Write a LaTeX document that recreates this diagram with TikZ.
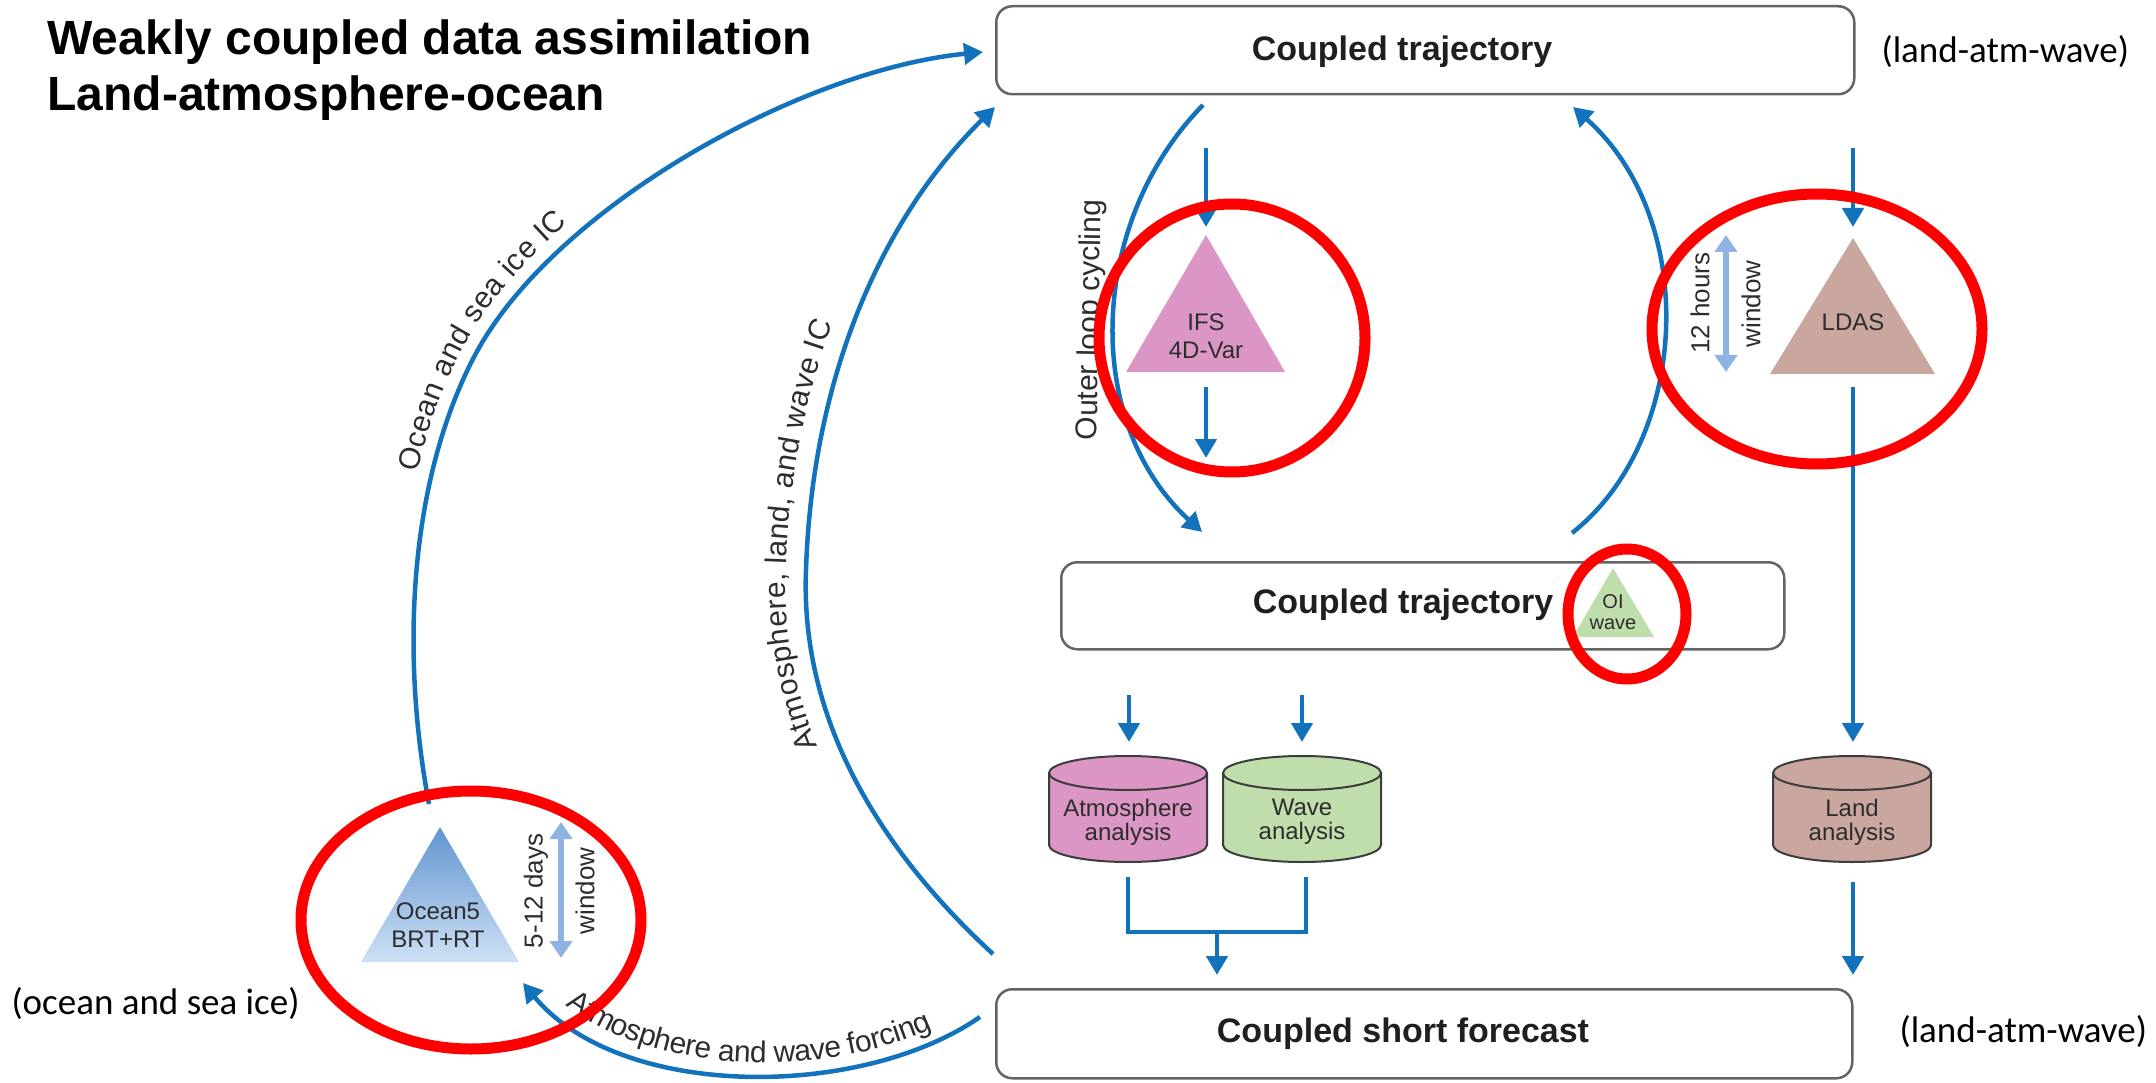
\documentclass[tikz,border=0pt]{standalone}
\usepackage{fontspec}
\setmainfont{Liberation Sans}
\newfontfamily\helvfont{Liberation Sans}
\newfontfamily\calibfont{Carlito}
\usetikzlibrary{arrows.meta,decorations.text,calc}

\definecolor{ablue}{RGB}{18,114,188}
\definecolor{lblue}{RGB}{142,178,226}
\definecolor{apink}{RGB}{219,150,197}
\definecolor{agreen}{RGB}{192,222,172}
\definecolor{abrown}{RGB}{201,166,158}
\definecolor{otop}{RGB}{98,148,208}
\definecolor{obot}{RGB}{206,225,245}
\definecolor{boxgray}{RGB}{100,100,100}
\definecolor{txtgray}{RGB}{45,45,45}
\definecolor{cylline}{RGB}{60,60,60}

\newcommand\arclab{\helvfont\fontsize{30}{30}\selectfont}
\newcommand\drawcyl[2]{%
  \filldraw[fill=#2, draw=cylline, line width=2pt]
    (#1-79,773) -- (#1-79,845) arc[start angle=180, end angle=360, x radius=79pt, y radius=17pt]
    -- (#1+79,773) -- cycle;
  \filldraw[fill=#2, draw=cylline, line width=2pt] (#1,773) ellipse [x radius=79pt, y radius=17pt];
}

\begin{document}
\begin{tikzpicture}[x=1pt,y=-1pt,
  flow/.style={ablue, line width=4.5pt, -{Triangle[length=19pt,width=21pt]}},
  flowline/.style={ablue, line width=4.5pt},
  win/.style={lblue, line width=5.5pt, {Triangle[length=17pt,width=22pt]}-{Triangle[length=17pt,width=22pt]}},
  box/.style={draw=boxgray, line width=2.5pt, rounded corners=16pt, fill=white, inner sep=0pt},
  boxtext/.style={font=\helvfont\bfseries\fontsize{34}{40}\selectfont, text=black!88},
  tritext/.style={font=\helvfont\fontsize{24}{28}\selectfont, text=txtgray, align=center},
  cyltext/.style={font=\helvfont\fontsize{24}{24}\selectfont, text=txtgray, align=center},
  wintext/.style={font=\helvfont\fontsize{26}{26}\selectfont, text=txtgray, rotate=90},
  note/.style={font=\calibfont\fontsize{37}{44}\selectfont, anchor=west},
  ring/.style={draw=red, line width=11pt},
  lbl/.style={decorate, decoration={text along path, text color=txtgray, #1}}
]
\useasboundingbox (0,0) rectangle (2156,1083);

% title
\node[anchor=base west, font=\helvfont\bfseries\fontsize{48}{56}\selectfont] (title1) at (44,55) {Weakly coupled data assimilation};
\node[anchor=base west, font=\helvfont\bfseries\fontsize{48}{56}\selectfont] (title2) at (44,111) {Land-atmosphere-ocean};

% boxes
\node[box, anchor=north west, minimum width=858pt, minimum height=88pt] (boxtop) at (995,5) {};
\node[box, anchor=north west, minimum width=723pt, minimum height=87pt] (boxmid) at (1060,561) {};
\node[box, anchor=north west, minimum width=856pt, minimum height=89pt] (boxbot) at (995,988) {};
\node[boxtext] (ttop) at (1402,52) {Coupled trajectory};
\node[boxtext] (tmid) at (1403,605) {Coupled trajectory};
\node[boxtext] (tbot) at (1403,1034) {Coupled short forecast};

% notes
\node[note] (nlawtop) at (1878,52) {(land-atm-wave)};
\node[note] (nlawbot) at (1896,1032) {(land-atm-wave)};
\node[note] (nocean) at (8,1004) {(ocean and sea ice)};

% triangles
\fill[apink] (1206,235) -- (1285,372) -- (1126,372) -- cycle;
\node[tritext] (ifs) at (1206,336) {IFS\\4D-Var};
\fill[abrown] (1853,238) -- (1935,374) -- (1770,374) -- cycle;
\node[tritext] (ldas) at (1853,322) {LDAS};
\fill[agreen] (1613,568) -- (1654,637) -- (1573,637) -- cycle;
\node[tritext, font=\helvfont\fontsize{20}{21}\selectfont] (oi) at (1613,612) {OI\\wave};
\shade[top color=otop, bottom color=obot] (440,827) -- (519,962) -- (361,962) -- cycle;
\node[tritext] (ocean5) at (438,925) {Ocean5\\BRT+RT};

% windows
\draw[win] (1726,235) -- (1726,372);
\node[wintext] (w12a) at (1700,303) {12 hours};
\node[wintext] (w12b) at (1751,304) {window};
\draw[win] (561,822) -- (561,958);
\node[wintext] (w5a) at (536,891) {5-12 days};
\node[wintext] (w5b) at (585,891) {window};

% cylinders
\drawcyl{1128}{apink}
\drawcyl{1302}{agreen}
\drawcyl{1852}{abrown}
\node[cyltext] (atm) at (1128,822) {Atmosphere\\analysis};
\node[cyltext] (wav) at (1302,822) {Wave\\analysis};
\node[cyltext] (lnd) at (1852,822) {Land\\analysis};

% straight connectors
\coordinate (ifsIn0) at (1206,148);  \coordinate (ifsIn1) at (1206,227);
\coordinate (ifsOut0) at (1206,387); \coordinate (ifsOut1) at (1206,458);
\coordinate (ldIn0) at (1853,148);   \coordinate (ldIn1) at (1853,227);
\coordinate (ldOut0) at (1853,387);  \coordinate (ldOut1) at (1853,742);
\coordinate (atmIn0) at (1129,695);  \coordinate (atmIn1) at (1129,742);
\coordinate (wavIn0) at (1302,695);  \coordinate (wavIn1) at (1302,742);
\coordinate (atmOut) at (1128,877);  \coordinate (wavOut) at (1306,877);
\coordinate (mergeL) at (1128,932);  \coordinate (mergeR) at (1306,932);
\coordinate (merge0) at (1217,932);  \coordinate (merge1) at (1217,975);
\coordinate (lndOut0) at (1853,882); \coordinate (lndOut1) at (1853,975);
\draw[flow] (ifsIn0) -- (ifsIn1);
\draw[flow] (ifsOut0) -- (ifsOut1);
\draw[flow] (ldIn0) -- (ldIn1);
\draw[flow] (ldOut0) -- (ldOut1);
\draw[flow] (atmIn0) -- (atmIn1);
\draw[flow] (wavIn0) -- (wavIn1);
\draw[flowline, line join=miter] (atmOut) -- (mergeL) -- (mergeR) -- (wavOut);
\draw[flow] (merge0) -- (merge1);
\draw[flow] (lndOut0) -- (lndOut1);

% curved connectors
\coordinate (olA) at (1203,105); \coordinate (olB) at (1202,532);
\draw[flow] (olA) .. controls (1090,220) and (1080,420) .. (olB);
\node[font=\arclab, text=txtgray, rotate=89] (outerlbl) at (1091,320) {Outer loop cycling};

\coordinate (rtA) at (1572,533); \coordinate (rtB) at (1573,107);
\draw[flow] (rtA) .. controls (1690,440) and (1700,220) .. (rtB);

\coordinate (icA) at (993,954); \coordinate (icM) at (806,570); \coordinate (icB) at (995,107);
\draw[flow] (icA) .. controls (880,850) and (800,720) .. (icM) .. controls (812,380) and (880,220) .. (icB);
\path[lbl={text={|\arclab|Atmosphere, land, and wave IC}, text align=center, raise=20pt}]
  (icA) .. controls (880,850) and (800,720) .. (icM) .. controls (812,380) and (880,220) .. (icB);

\coordinate (ocA) at (429,804); \coordinate (ocM) at (474,357); \coordinate (ocB) at (983,52);
\draw[flow] (ocA) .. controls (400,650) and (410,480) .. (ocM) .. controls (551,209) and (800,70) .. (ocB);
\path[lbl={text={|\arclab|Ocean and sea ice IC}, text align={left indent=330pt}, raise=14pt}]
  (ocA) .. controls (400,650) and (410,480) .. (ocM) .. controls (551,209) and (800,70) .. (ocB);

\coordinate (fcA) at (980,1017); \coordinate (fcB) at (523,983);
\draw[flow] (fcA) .. controls (860,1100) and (620,1100) .. (fcB);
\path[lbl={text={|\arclab|Atmosphere and wave forcing}, text align=center, raise=13pt}]
  (fcB) .. controls (620,1100) and (860,1100) .. (fcA);

% red rings
\draw[ring] (1232,338) ellipse [x radius=133pt, y radius=134pt];
\draw[ring] (1817,329) ellipse [x radius=165pt, y radius=135pt];
\draw[ring] (1627,614) ellipse [x radius=59pt, y radius=65pt];
\draw[ring] (471,920) ellipse [x radius=170pt, y radius=129pt];
\end{tikzpicture}
\end{document}
